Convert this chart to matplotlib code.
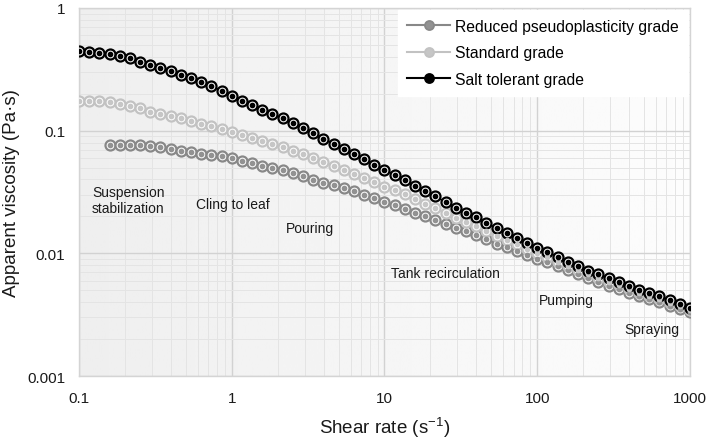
import numpy as np
import matplotlib
matplotlib.use("Agg")
import matplotlib.pyplot as plt
from matplotlib.lines import Line2D

plt.rcParams["font.family"] = ["Liberation Sans", "DejaVu Sans"]
plt.rcParams["mathtext.fontset"] = "custom"
plt.rcParams["mathtext.rm"] = "Liberation Sans"
plt.rcParams["mathtext.it"] = "Liberation Sans:italic"

# ------------------------------------------------------------
# DATA (15 points per decade)
# ------------------------------------------------------------
shear_rate = [
    0.1, 0.1166, 0.1359, 0.1585, 0.1848, 0.2154, 0.2512, 0.2929, 0.3415, 0.3981,
    0.4642, 0.5412, 0.6310, 0.7356, 0.8577,
    1.0, 1.166, 1.359, 1.585, 1.848, 2.154, 2.512, 2.929, 3.415, 3.981,
    4.642, 5.412, 6.310, 7.356, 8.577,
    10.0, 11.66, 13.59, 15.85, 18.48, 21.54, 25.12, 29.29, 34.15, 39.81,
    46.42, 54.12, 63.10, 73.56, 85.77,
    100.0, 116.6, 135.9, 158.5, 184.8, 215.4, 251.2, 292.9, 341.5, 398.1,
    464.2, 541.2, 631.0, 735.6, 857.7,
    1000.0,
]

salt_tolerant = [
    0.446, 0.440, 0.432, 0.422, 0.409, 0.389, 0.365, 0.343, 0.326, 0.308,
    0.284, 0.267, 0.248, 0.230, 0.212,
    0.193, 0.1756, 0.162, 0.148, 0.136, 0.126, 0.1145, 0.1046, 0.0953, 0.0861,
    0.0782, 0.0710, 0.0646, 0.0585, 0.0529,
    0.0480, 0.0436, 0.0393, 0.0356, 0.0323, 0.0292, 0.0261, 0.0236, 0.0214, 0.0197,
    0.0177, 0.0160, 0.0147, 0.01335, 0.01222,
    0.01107, 0.01026, 0.00931, 0.00855, 0.00789, 0.00723, 0.00675, 0.00627, 0.00588, 0.00546,
    0.00506, 0.00476, 0.00447, 0.00415, 0.00389,
    0.00361,
]

standard = [
    0.1756, 0.175, 0.1736, 0.1713, 0.165, 0.158, 0.1523, 0.1428, 0.136, 0.131,
    0.126, 0.120, 0.114, 0.1086, 0.1032,
    0.0971, 0.0919, 0.0869, 0.0821, 0.0774, 0.0730, 0.0683, 0.0642, 0.0603, 0.0559,
    0.0519, 0.0481, 0.0446, 0.0409, 0.0380,
    0.0350, 0.0329, 0.0303, 0.0276, 0.0254, 0.0233, 0.0214, 0.0195, 0.0180, 0.01666,
    0.01517, 0.01386, 0.01286, 0.01182, 0.01090,
    0.01002, 0.00929, 0.00854, 0.00789, 0.00732, 0.00673, 0.00626, 0.00582, 0.00548, 0.00510,
    0.00475, 0.00447, 0.00422, 0.00393, 0.00370,
    0.00345,
]

# reduced grade starts at the 4th shear rate (0.1585)
reduced = [
    None, None, None, 0.0765, 0.0765, 0.0765, 0.0760, 0.0746, 0.0732, 0.0710,
    0.0683, 0.0667, 0.0650, 0.0634, 0.0618,
    0.0596, 0.0569, 0.0540, 0.0516, 0.0494, 0.0474, 0.0456, 0.0427, 0.0399, 0.0378,
    0.0358, 0.0338, 0.0320, 0.0299, 0.0281,
    0.0262, 0.0247, 0.0232, 0.0214, 0.0201, 0.0186, 0.01746, 0.0162, 0.01523, 0.01413,
    0.01302, 0.0120, 0.01121, 0.01046, 0.00970,
    0.00905, 0.00843, 0.00782, 0.00728, 0.00680, 0.00630, 0.00579, 0.00543, 0.00510, 0.00476,
    0.00445, 0.00421, 0.00398, 0.00373, 0.00352,
    0.00330,
]

series_names = ["Reduced pseudoplasticity grade", "Standard grade", "Salt tolerant grade"]

region_labels = ["Suspension\nstabilization", "Cling to leaf", "Pouring",
                 "Tank recirculation", "Pumping", "Spraying"]
region_x = [0.1217, 0.583, 2.25, 11.0, 102.7, 370.0]
region_y = [0.0272, 0.0253, 0.0161, 0.00692, 0.00417, 0.00243]

x_ticks = [0.1, 1, 10, 100, 1000]
x_ticklabels = ["0.1", "1", "10", "100", "1000"]
y_ticks = [0.001, 0.01, 0.1, 1]
y_ticklabels = ["0.001", "0.01", "0.1", "1"]

# ------------------------------------------------------------
# FIGURE
# ------------------------------------------------------------
fig = plt.figure(figsize=(7.09, 4.39), dpi=100)
ax = fig.add_axes([0.1114, 0.1412, 0.8618, 0.8383])
ax.set_xscale("log")
ax.set_yscale("log")
ax.set_xlim(0.1, 1000)
ax.set_ylim(0.001, 1)

# soft grey-to-white background gradient
grad = np.linspace(0.935, 0.99, 256).reshape(1, -1)
ax.imshow(grad, cmap="gray", vmin=0, vmax=1, extent=[0, 1, 0, 1],
          transform=ax.transAxes, aspect="auto", zorder=0)

ax.grid(which="major", color="#d2d2d2", linewidth=1.0, zorder=1)
ax.grid(which="minor", color="#e4e4e4", linewidth=0.7, zorder=1)
ax.set_axisbelow(True)
for sp in ax.spines.values():
    sp.set_color("#d4d4d4")
    sp.set_linewidth(1.0)

styles = [
    # values, ring colour, inner dot colour, line colour
    (reduced, "#888888", "#929292", "#888888"),
    (standard, "#c2c2c2", "#c6c6c6", "#c2c2c2"),
    (salt_tolerant, "#000000", "#000000", "#000000"),
]

handles = []
for (vals, ring, dot, line), name in zip(styles, series_names):
    xs = [x for x, v in zip(shear_rate, vals) if v is not None]
    ys = [v for v in vals if v is not None]
    ax.plot(xs, ys, color=line, linewidth=1.3, zorder=3)
    ax.plot(xs, ys, linestyle="none", marker="o", markersize=7.2,
            markerfacecolor="white", markeredgecolor=ring,
            markeredgewidth=1.6, zorder=4)
    ax.plot(xs, ys, linestyle="none", marker="o", markersize=3.1,
            markerfacecolor=dot, markeredgecolor=dot, zorder=5)
    handles.append(Line2D([0], [0], color=line, linewidth=1.5, marker="o",
                          markersize=6.5, markerfacecolor=dot,
                          markeredgecolor=ring, markeredgewidth=1.3))

for txt, tx, ty in zip(region_labels, region_x, region_y):
    ax.text(tx, ty, txt, fontsize=10, color="#1a1a1a", ha="left",
            va="center", linespacing=1.25, zorder=6)

ax.set_xticks(x_ticks)
ax.set_xticklabels(x_ticklabels)
ax.set_yticks(y_ticks)
ax.set_yticklabels(y_ticklabels)
ax.tick_params(which="both", length=0, labelsize=11, colors="#1a1a1a")
ax.tick_params(axis="y", pad=10)
ax.tick_params(axis="x", pad=11)

ax.set_xlabel(r"Shear rate (s$^{-1}$)", fontsize=13.5, color="#1a1a1a", labelpad=7)
ax.set_ylabel("Apparent viscosity (Pa\u00b7s)", fontsize=13.5, color="#1a1a1a", labelpad=5)

leg = ax.legend(handles, series_names, loc="upper right", fontsize=11.3,
                frameon=True, framealpha=1.0, edgecolor="white",
                fancybox=False, handlelength=2.7, handletextpad=0.35,
                borderaxespad=0.1, borderpad=0.6, labelspacing=0.72)
leg.set_zorder(7)

fig.savefig("out.png", dpi=100)
